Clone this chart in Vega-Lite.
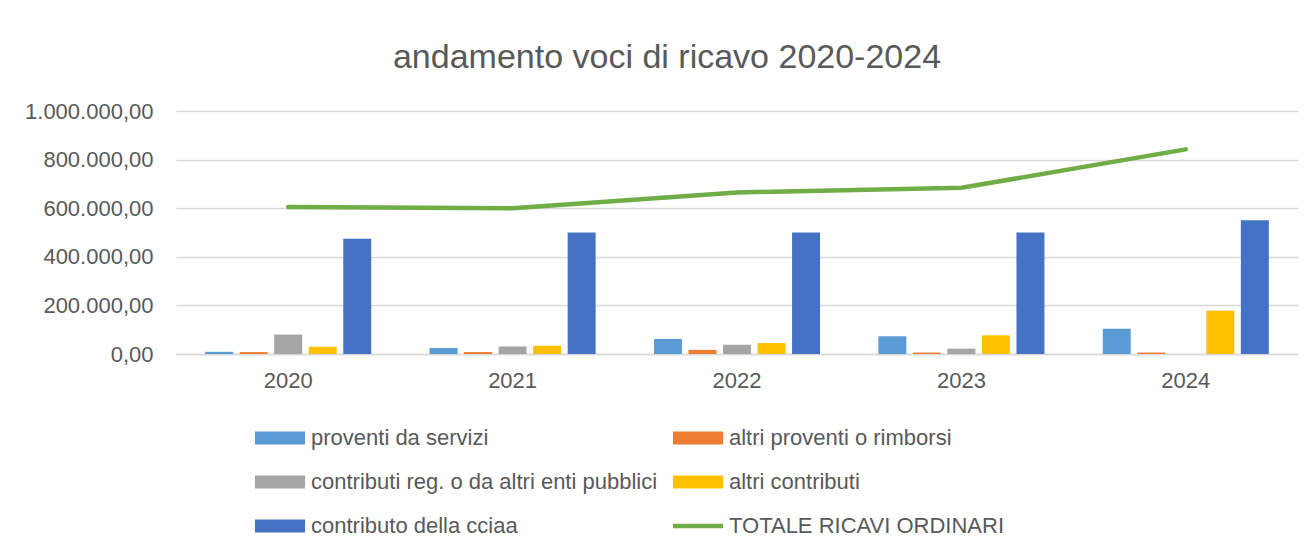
{
  "$schema": "https://vega.github.io/schema/vega-lite/v6.json",
  "autosize": {"type": "none"},
  "padding": {"left": 176, "top": 111, "right": 16, "bottom": 201},
  "width": 1122,
  "height": 243,
  "background": "white",
  "config": {
    "font": "Liberation Sans",
    "view": {"stroke": null},
    "locale": {"number": {"decimal": ",", "thousands": ".", "grouping": [3], "currency": ["€", ""]}}
  },
  "title": {
    "text": "andamento voci di ricavo 2020-2024",
    "fontSize": 34,
    "fontWeight": "normal",
    "color": "#595959",
    "font": "Liberation Sans",
    "anchor": "middle",
    "frame": "group",
    "dx": -70,
    "offset": 25
  },
  "data": {
    "values": [
      {"anno": "2020", "serie": "proventi da servizi", "valore": 9000},
      {"anno": "2020", "serie": "altri proventi o rimborsi", "valore": 8000},
      {"anno": "2020", "serie": "contributi reg. o da altri enti pubblici", "valore": 80000},
      {"anno": "2020", "serie": "altri contributi", "valore": 30000},
      {"anno": "2020", "serie": "contributo della cciaa", "valore": 474000},
      {"anno": "2020", "serie": "TOTALE RICAVI ORDINARI", "valore": 605000},
      {"anno": "2021", "serie": "proventi da servizi", "valore": 25000},
      {"anno": "2021", "serie": "altri proventi o rimborsi", "valore": 8000},
      {"anno": "2021", "serie": "contributi reg. o da altri enti pubblici", "valore": 31000},
      {"anno": "2021", "serie": "altri contributi", "valore": 34000},
      {"anno": "2021", "serie": "contributo della cciaa", "valore": 500000},
      {"anno": "2021", "serie": "TOTALE RICAVI ORDINARI", "valore": 600000},
      {"anno": "2022", "serie": "proventi da servizi", "valore": 62000},
      {"anno": "2022", "serie": "altri proventi o rimborsi", "valore": 17000},
      {"anno": "2022", "serie": "contributi reg. o da altri enti pubblici", "valore": 38000},
      {"anno": "2022", "serie": "altri contributi", "valore": 45000},
      {"anno": "2022", "serie": "contributo della cciaa", "valore": 500000},
      {"anno": "2022", "serie": "TOTALE RICAVI ORDINARI", "valore": 665000},
      {"anno": "2023", "serie": "proventi da servizi", "valore": 73000},
      {"anno": "2023", "serie": "altri proventi o rimborsi", "valore": 6000},
      {"anno": "2023", "serie": "contributi reg. o da altri enti pubblici", "valore": 22000},
      {"anno": "2023", "serie": "altri contributi", "valore": 77000},
      {"anno": "2023", "serie": "contributo della cciaa", "valore": 500000},
      {"anno": "2023", "serie": "TOTALE RICAVI ORDINARI", "valore": 684000},
      {"anno": "2024", "serie": "proventi da servizi", "valore": 104000},
      {"anno": "2024", "serie": "altri proventi o rimborsi", "valore": 6000},
      {"anno": "2024", "serie": "contributi reg. o da altri enti pubblici", "valore": 0},
      {"anno": "2024", "serie": "altri contributi", "valore": 178000},
      {"anno": "2024", "serie": "contributo della cciaa", "valore": 550000},
      {"anno": "2024", "serie": "TOTALE RICAVI ORDINARI", "valore": 842000}
    ]
  },
  "encoding": {
    "x": {
      "field": "anno",
      "type": "nominal",
      "title": null,
      "scale": {"paddingInner": 0.26, "paddingOuter": 0.13},
      "axis": {
        "labelAngle": 0,
        "labelFontSize": 22,
        "labelColor": "#595959",
        "labelPadding": 16,
        "ticks": false,
        "domainColor": "#d9d9d9",
        "domainWidth": 1.5,
        "grid": false
      }
    },
    "y": {
      "field": "valore",
      "type": "quantitative",
      "title": null,
      "scale": {"domain": [0, 1000000], "nice": false},
      "axis": {
        "values": [0, 200000, 400000, 600000, 800000, 1000000],
        "format": ",.2f",
        "labelFontSize": 22,
        "labelColor": "#595959",
        "labelPadding": 23,
        "ticks": false,
        "domain": false,
        "gridColor": "#d9d9d9",
        "gridWidth": 1.5
      }
    },
    "color": {
      "field": "serie",
      "type": "nominal",
      "scale": {
        "domain": ["proventi da servizi", "altri proventi o rimborsi", "contributi reg. o da altri enti pubblici", "altri contributi", "contributo della cciaa", "TOTALE RICAVI ORDINARI"],
        "range": ["#5B9BD5", "#ED7D31", "#A5A5A5", "#FFC000", "#4472C4", "#70AD47"]
      },
      "legend": {
        "orient": "none",
        "legendX": 89,
        "legendY": 312,
        "title": null,
        "direction": "horizontal",
        "columns": 2,
        "padding": 0,
        "labelFontSize": 22,
        "labelColor": "#595959",
        "labelFont": "Liberation Sans",
        "labelLimit": 600,
        "symbolSize": 900,
        "labelOffset": 16,
        "rowPadding": 18,
        "columnPadding": 14,
        "encode": {
          "symbols": {
            "update": {
              "shape": {"signal": "datum.value === 'TOTALE RICAVI ORDINARI' ? 'M-1.67,-0.15H1.67V0.15H-1.67Z' : 'M-1.67,-0.43H1.67V0.43H-1.67Z'"},
              "fill": {"signal": "scale('color', datum.value)"},
              "stroke": {"value": "transparent"},
              "strokeWidth": {"value": 0},
              "opacity": {"value": 1}
            }
          }
        }
      }
    }
  },
  "layer": [
    {
      "transform": [{"filter": "datum.serie !== 'TOTALE RICAVI ORDINARI'"}],
      "mark": {"type": "bar"},
      "encoding": {
        "xOffset": {
          "field": "serie",
          "type": "nominal",
          "scale": {
            "domain": ["proventi da servizi", "altri proventi o rimborsi", "contributi reg. o da altri enti pubblici", "altri contributi", "contributo della cciaa"],
            "paddingInner": 0.19,
            "paddingOuter": 0
          }
        }
      }
    },
    {
      "transform": [{"filter": "datum.serie === 'TOTALE RICAVI ORDINARI'"}],
      "mark": {"type": "line", "strokeWidth": 4.5, "strokeCap": "round", "strokeJoin": "round"},
      "encoding": {}
    }
  ]
}
